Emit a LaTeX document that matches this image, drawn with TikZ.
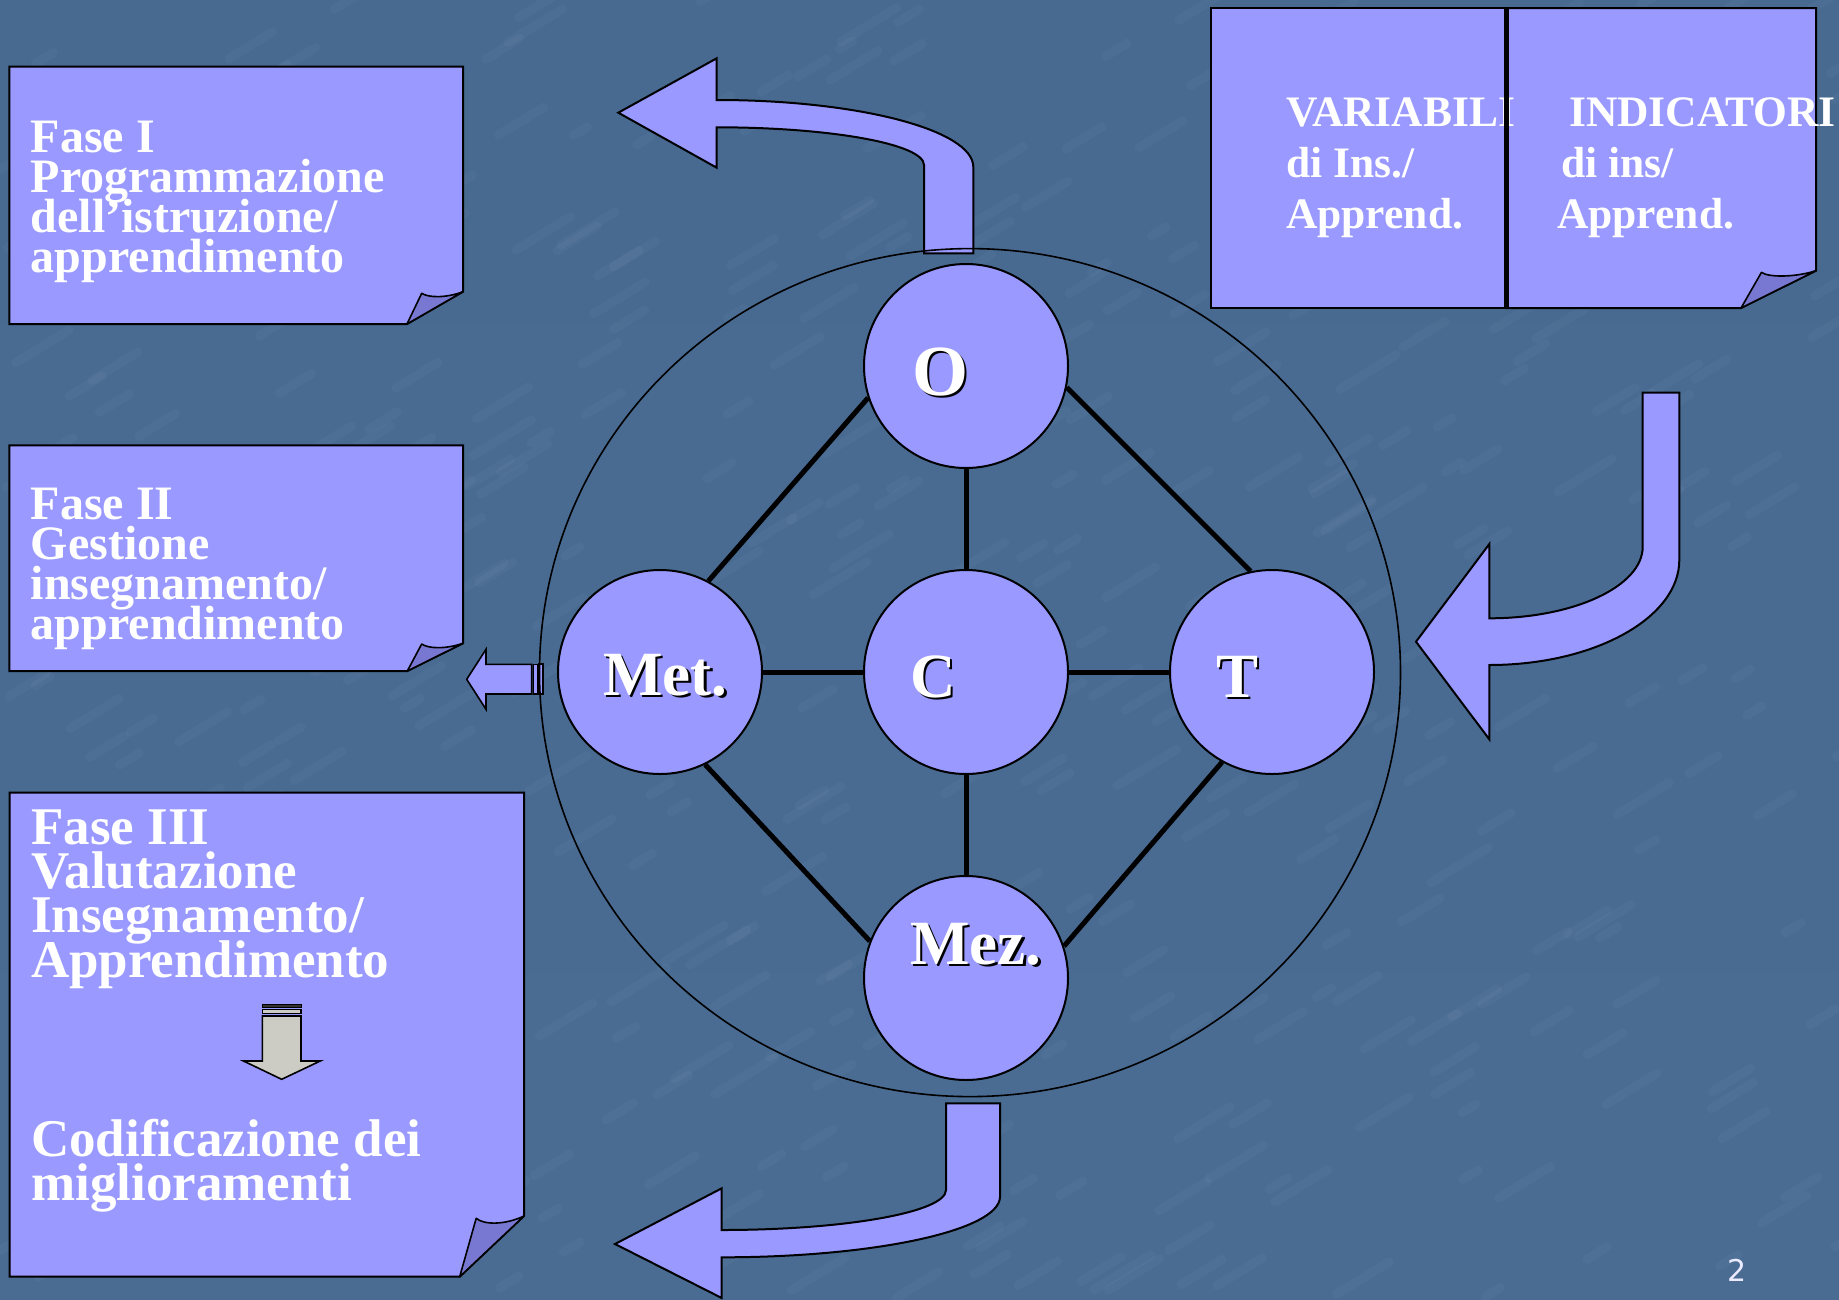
\documentclass[tikz,border=0pt]{standalone}
\usepackage{fontspec}
\setmainfont{Liberation Serif}
\newfontfamily\numfont{DejaVu Sans}
\usetikzlibrary{shapes.geometric}
\definecolor{boxfill}{RGB}{153,153,255}
\definecolor{foldfill}{RGB}{120,120,210}
\definecolor{bgtop}{RGB}{72,106,145}
\definecolor{bgmid}{RGB}{86,123,160}
\definecolor{bgbot}{RGB}{74,108,147}
\definecolor{arrowgray}{RGB}{204,204,196}
\newcommand\shtext[1]{\makebox[0pt][l]{\kern2.5pt\raisebox{-2.5pt}{\color{black}#1}}#1}
\newcommand\tightlines{\lineskiplimit -60pt\relax}
\tikzset{
  boxshape/.style={fill=boxfill, draw=black, line width=2pt, line join=miter},
  flap/.style={fill=foldfill, draw=black, line width=1.6pt, line join=round},
  bigarrow/.style={fill=boxfill, draw=black, line width=2pt, line join=miter},
  circ/.style={circle, fill=boxfill, draw=black, line width=2pt, minimum size=204pt, inner sep=0pt},
  conn/.style={line width=5pt, black},
  boxtext/.style={text=white, align=left, anchor=base west, inner sep=0pt},
  ctext/.style={text=white, anchor=base west, inner sep=0pt},
  streak/.style={white, opacity=0.03, line width=9pt, line cap=round},
}
\begin{document}
\begin{tikzpicture}[x=1pt,y=-1pt]
\useasboundingbox (0,0) rectangle (1839,1299);
\shade[top color=bgtop, middle color=bgmid, bottom color=bgbot] (0,0) rectangle (1839,1299);
% faint marble texture
\pgfmathsetseed{7}
\foreach \i in {1,...,450}{
  \pgfmathsetmacro\xx{rnd*1839}
  \pgfmathsetmacro\yy{rnd*1299}
  \pgfmathsetmacro\ll{15+rnd*55}
  \draw[streak] (\xx,\yy) -- ++(0.85*\ll,-0.52*\ll);
}

% Fase I box
\draw[boxshape] (9.4,66.7) -- (463,66.7) -- (463,291.7) -- (407,324) -- (9.4,324) -- cycle;
\draw[flap] (407,324) -- (421.7,293.3) .. controls (428,297.5) and (445,298.5) .. (463,291.7) -- cycle;
% Fase II box
\draw[boxshape] (9.4,445.3) -- (463,445.3) -- (463,643.3) -- (407.3,671) -- (9.4,671) -- cycle;
\draw[flap] (407.3,671) -- (421.7,644) .. controls (428,648.5) and (445,649.5) .. (463,643.3) -- cycle;
% Fase III box
\draw[boxshape] (9.6,792.7) -- (524,792.7) -- (524,1216) -- (459.7,1276.7) -- (9.6,1276.7) -- cycle;
\draw[flap] (459.7,1276.7) -- (476.2,1218.3) .. controls (484,1225) and (505,1225) .. (524,1216) -- cycle;
% top right boxes
\draw[boxshape] (1211,8) rectangle (1506,308);
\draw[boxshape] (1506,8) -- (1816,8) -- (1816,270.7) -- (1741,308) -- (1506,308) -- cycle;
\draw[flap] (1741,308) -- (1761.5,272.3) .. controls (1768,277.5) and (1795,277.5) .. (1816,270.7) -- cycle;

% down arrow inside Fase III
\draw[fill=black!80, draw=black, line width=1pt] (262.4,1004) rectangle (301,1007.3);
\draw[fill=arrowgray, draw=black, line width=1.5pt] (262.4,1009.3) rectangle (301,1013.3);
\draw[fill=arrowgray, draw=black, line width=1.6pt, line join=miter] (262.4,1016) -- (301,1016) -- (301,1061) -- (320.2,1061) -- (281.7,1079.3) -- (243.5,1061) -- (262.4,1061) -- cycle;

% top curved arrow
\draw[bigarrow] (618.3,112.7) -- (716.7,58.3) -- (716.7,100)
  .. controls (858.4,100) and (973.3,130) .. (973.3,167) -- (973.3,253.3) -- (924,253.3) -- (924,165)
  .. controls (924,144.2) and (831.2,127.3) .. (716.7,127.3) -- (716.7,167.7) -- cycle;
% right curved arrow
\draw[bigarrow] (1642.7,392.7) -- (1679.3,392.7) -- (1679.3,560)
  .. controls (1679.3,618) and (1594.2,665) .. (1489.3,665) -- (1489.3,739.3) -- (1416,641.7) -- (1489.3,544) -- (1489.3,618.3)
  .. controls (1574,618.3) and (1642.7,586.2) .. (1642.7,546.7) -- cycle;
% bottom curved arrow
\draw[bigarrow] (946,1103.3) -- (1000,1103.3) -- (1000,1196.7)
  .. controls (1000,1230.2) and (875.4,1257.3) .. (721.7,1257.3) -- (721.7,1298) -- (615,1244) -- (721.7,1188.3) -- (721.7,1230)
  .. controls (845.6,1230) and (946,1212.1) .. (946,1190) -- cycle;
% small striped arrow
\draw[bigarrow, line width=1.6pt] (466.7,679.3) -- (486,649.3) -- (486,664.3) -- (531.7,664.3) -- (531.7,694) -- (486,694) -- (486,709.3) -- cycle;
\draw[fill=boxfill, draw=black, line width=1.4pt] (533.5,664.3) rectangle (537.3,694);
\draw[fill=boxfill, draw=black, line width=1.8pt] (539.3,664.3) rectangle (543.3,694);

% circles
\node[circ] (O) at (966,366) {};
\node[circ] (C) at (966,672) {};
\node[circ] (Met) at (660,672) {};
\node[circ] (T) at (1272,672) {};
\node[circ] (Mez) at (966,978) {};

% connectors
\draw[conn] (O) -- (C);
\draw[conn] (Met) -- (C);
\draw[conn] (C) -- (T);
\draw[conn] (C) -- (Mez);
\draw[conn] (O.198.6) -- (Met.62.7);
\draw[conn] (O.348.4) -- (T.102.3);
\draw[conn] (Met.296.7) -- (Mez.159);
\draw[conn] (T.241.8) -- (Mez.18.4);

% ring
\node[draw, ellipse, minimum width=861pt, minimum height=848pt, inner sep=0pt, line width=1.6pt] (ring) at (970,672.6) {};

% circle labels
\node[ctext, font=\bfseries\fontsize{72}{72}\selectfont] (Otxt) at (912,395) {\shtext{O}};
\node[ctext, font=\bfseries\fontsize{63}{63}\selectfont] (Ctxt) at (910,697) {\shtext{C}};
\node[ctext, font=\bfseries\fontsize{63}{63}\selectfont] (Mettxt) at (603,695) {\shtext{Met.}};
\node[ctext, font=\bfseries\fontsize{63}{63}\selectfont] (Ttxt) at (1216,697) {\shtext{T}};
\node[ctext, font=\bfseries\fontsize{63}{63}\selectfont] (Meztxt) at (910,964) {\shtext{Mez.}};

% box texts (anchor base = last line)
\node[boxtext, font={\bfseries\fontsize{48}{40}\selectfont\tightlines}] (f1) at (30.7,272)
  {Fase I\\Programmazione\\dell’istruzione/\\apprendimento};
\node[boxtext, font={\bfseries\fontsize{48}{39.8}\selectfont\tightlines}] (f2) at (30.7,639.3)
  {Fase II\\Gestione\\insegnamento/\\apprendimento};
\node[boxtext, font={\bfseries\fontsize{53}{44.4}\selectfont\tightlines}] (f3) at (31,977.3)
  {Fase III\\Valutazione\\Insegnamento/\\Apprendimento};
\node[boxtext, font={\bfseries\fontsize{53}{44}\selectfont\tightlines}] (f3b) at (31,1200.7)
  {Codificazione dei\\miglioramenti};
\node[boxtext, font={\bfseries\fontsize{43.5}{51}\selectfont\tightlines}] (var) at (1286,228)
  {VARIABILI\\di Ins./\\Apprend.};
\node[boxtext, font={\bfseries\fontsize{43.5}{51}\selectfont\tightlines}] (ind) at (1569,228)
  {INDICATORI\\\hspace*{-8pt}di ins/\\\hspace*{-12pt}Apprend.};
\draw[line width=5pt] (1506,8) -- (1506,308);

% page number
\node[text=white!92!blue, font=\numfont\fontsize{30}{30}\selectfont, anchor=base west, inner sep=0pt] (pg) at (1727,1281) {2};
\end{tikzpicture}
\end{document}
